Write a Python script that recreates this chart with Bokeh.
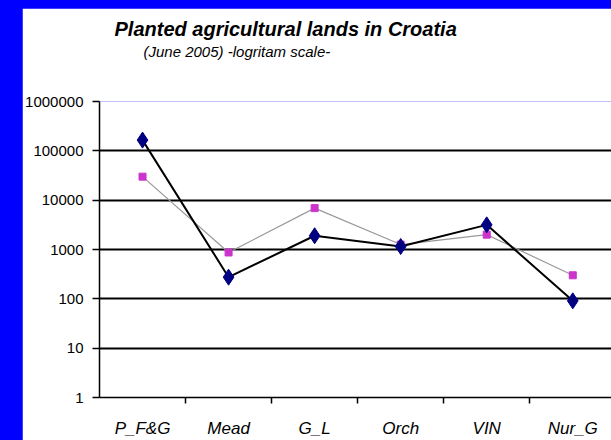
from bokeh.plotting import figure
from bokeh.models import FixedTicker, NumeralTickFormatter, Grid, Title, ColumnDataSource
from bokeh.embed import file_html
from bokeh.resources import INLINE

categories = ["P_F&G", "Mead", "G_L", "Orch", "VIN", "Nur_G"]
series_a = [165000, 275, 1900, 1150, 3160, 91]
series_b = [30000, 870, 6900, 1260, 2000, 300]
y_ticks = [1, 10, 100, 1000, 10000, 100000, 1000000]

x_pos = [i + 0.5 for i in range(len(categories))]
src = ColumnDataSource(dict(x=x_pos, a=series_a, b=series_b))

p = figure(width=589, height=432, output_backend="svg", toolbar_location=None,
           y_axis_type="log", x_range=(0, 5.95), y_range=(1, 1000000),
           min_border_left=75, min_border_top=93, min_border_bottom=39, min_border_right=0)
p.background_fill_color = "white"
p.border_fill_color = "white"
p.outline_line_color = None
p.xgrid.visible = False

# titles: an empty spacer panel next to the frame, then the subtitle, then the title
spacer = Title(text=" ", text_font="Liberation Sans", text_font_size="14px",
               text_color="white", align="left", offset=44, standoff=23)
sub = Title(text="(June 2005)  -logritam scale-", text_font="Liberation Sans",
            text_font_size="15px", text_font_style="italic", text_color="black",
            align="left", offset=44, standoff=1)
p.add_layout(spacer, "above")
p.add_layout(sub, "above")
p.title.text = "Planted agricultural lands in Croatia"
p.title.text_font = "Liberation Sans"
p.title.text_font_size = "20px"
p.title.text_font_style = "bold italic"
p.title.text_color = "black"
p.title.align = "left"
p.title.offset = 15
p.title.standoff = 2

# y axis
p.yaxis.ticker = FixedTicker(ticks=y_ticks)
p.yaxis.formatter = NumeralTickFormatter(format="0")
p.yaxis.major_label_text_font = "Liberation Sans"
p.yaxis.major_label_text_font_size = "15px"
p.yaxis.major_label_text_color = "black"
p.yaxis.axis_line_color = "black"
p.yaxis.axis_line_width = 1.5
p.yaxis.major_tick_out = 7
p.yaxis.major_tick_in = 0
p.yaxis.major_tick_line_color = "black"
p.yaxis.major_tick_line_width = 1.5
p.yaxis.minor_tick_line_color = None
p.yaxis.major_label_standoff = 9

# x axis
p.xaxis.ticker = FixedTicker(ticks=x_pos, minor_ticks=[1, 2, 3, 4, 5])
p.xaxis.major_label_overrides = {x: c for x, c in zip(x_pos, categories)}
p.xaxis.major_label_text_font = "Liberation Sans"
p.xaxis.major_label_text_font_size = "17px"
p.xaxis.major_label_text_font_style = "italic"
p.xaxis.major_label_text_color = "black"
p.xaxis.major_tick_line_color = None
p.xaxis.minor_tick_line_color = "black"
p.xaxis.minor_tick_line_width = 1.5
p.xaxis.minor_tick_out = 6
p.xaxis.minor_tick_in = 0
p.xaxis.axis_line_color = "black"
p.xaxis.axis_line_width = 1.5
p.xaxis.major_label_standoff = 15

# grid
p.ygrid.ticker = FixedTicker(ticks=y_ticks[1:-1])
p.ygrid.grid_line_color = "black"
p.ygrid.grid_line_width = 2
top = Grid(dimension=1, ticker=FixedTicker(ticks=[y_ticks[-1]]),
           grid_line_color="#888888", grid_line_width=2)
p.add_layout(top)

# series
p.line("x", "b", source=src, line_color="#999999", line_width=1.2)
p.line("x", "a", source=src, line_color="black", line_width=2)
p.scatter("x", "b", source=src, marker="square", size=7, fill_color="#CC33CC", line_color="#CC33CC")
p.scatter("x", "a", source=src, marker="diamond", size=16, fill_color="#000080", line_color="#000080")

html = file_html(p, INLINE)
css = ("<style>html{background:#0000FF !important;} body{margin:8px 0 0 22px !important;"
       "background:#0000FF !important;overflow:hidden !important;}</style>")
html = html.replace("</head>", css + "</head>", 1)
open("out.html", "w").write(html)
